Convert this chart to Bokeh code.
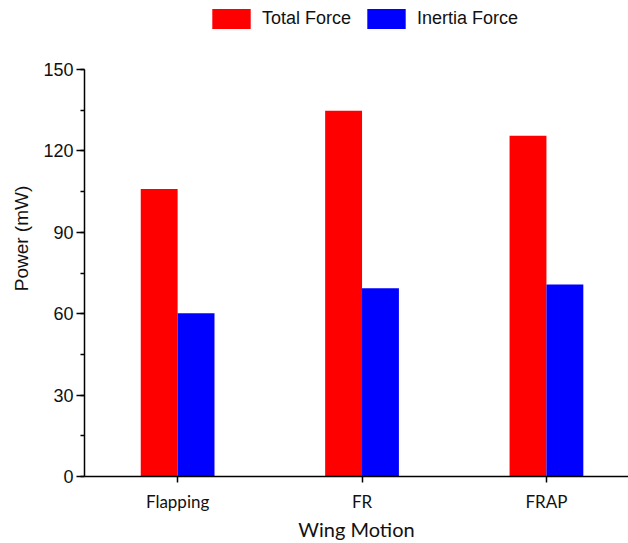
from bokeh.plotting import figure
from bokeh.models import Range1d, FixedTicker, SingleIntervalTicker, Legend, LegendItem, ColumnDataSource
from bokeh.transform import dodge
from bokeh.embed import file_html
from bokeh.resources import INLINE

categories = ["Flapping", "FR", "FRAP"]
total_force = [106.0, 134.8, 125.6]
inertia_force = [60.2, 69.4, 70.8]
y_max = 150

positions = list(range(len(categories)))
src = ColumnDataSource(dict(x=positions, total=total_force, inertia=inertia_force))

H, W = 543, 628
border_bottom = 67
frame_h = H - border_bottom
axis_top_px = 69  # where the 150 tick lies
y_end = y_max * frame_h / (frame_h - axis_top_px)

p = figure(width=W, height=H, output_backend="svg", toolbar_location=None,
           x_range=Range1d(-0.505, 2.445), y_range=Range1d(0, y_end),
           min_border_left=84, min_border_right=0, min_border_top=0, min_border_bottom=border_bottom)
p.outline_line_color = None
p.xgrid.visible = False
p.ygrid.visible = False
p.background_fill_color = "white"
p.border_fill_color = "white"

r1 = p.vbar(x=dodge("x", -0.1, range=p.x_range), top="total", width=0.2, source=src,
            fill_color="#FF0000", line_color=None)
r2 = p.vbar(x=dodge("x", 0.1, range=p.x_range), top="inertia", width=0.2, source=src,
            fill_color="#0000FF", line_color=None)

# x axis
xa = p.xaxis[0]
xa.ticker = FixedTicker(ticks=positions)
xa.major_label_overrides = {i: c for i, c in zip(positions, categories)}
xa.minor_tick_line_color = None
xa.major_tick_out = 6
xa.major_tick_in = 0
xa.major_label_standoff = 8
xa.major_label_text_font = "Lato"
xa.major_label_text_font_size = "17px"
xa.major_label_text_color = "#111111"
xa.axis_label = "Wing Motion"
xa.axis_label_text_font = "Lato"
xa.axis_label_text_font_size = "20px"
xa.axis_label_text_font_style = "normal"
xa.axis_label_text_color = "#111111"
xa.axis_label_standoff = 2
xa.axis_line_width = 1.5
xa.major_tick_line_width = 1.5

# y axis
ya = p.yaxis[0]
ya.ticker = SingleIntervalTicker(interval=30, num_minor_ticks=2)
ya.bounds = (0, y_max)
ya.major_tick_out = 8
ya.major_tick_in = 0
ya.minor_tick_out = 4
ya.minor_tick_in = 0
ya.major_label_standoff = 3
ya.major_label_text_font = "Liberation Sans"
ya.major_label_text_font_size = "18px"
ya.major_label_text_color = "#111111"
ya.axis_label = "Power (mW)"
ya.axis_label_text_font = "Liberation Sans"
ya.axis_label_text_font_size = "19px"
ya.axis_label_text_font_style = "normal"
ya.axis_label_text_color = "#111111"
ya.axis_label_standoff = 8
ya.axis_line_width = 1.5
ya.major_tick_line_width = 1.5
ya.minor_tick_line_width = 1.5

legend = Legend(items=[LegendItem(label="Total Force", renderers=[r1]),
                       LegendItem(label="Inertia Force", renderers=[r2])],
                orientation="horizontal", location=(123, 445),
                glyph_width=48, glyph_height=25, label_standoff=7, spacing=11,
                padding=0, margin=0, border_line_color=None, background_fill_alpha=0,
                label_text_font="Liberation Sans", label_text_font_size="18px",
                label_text_color="#111111")
p.add_layout(legend, "center")

open("out.html", "w").write(file_html(p, INLINE))
